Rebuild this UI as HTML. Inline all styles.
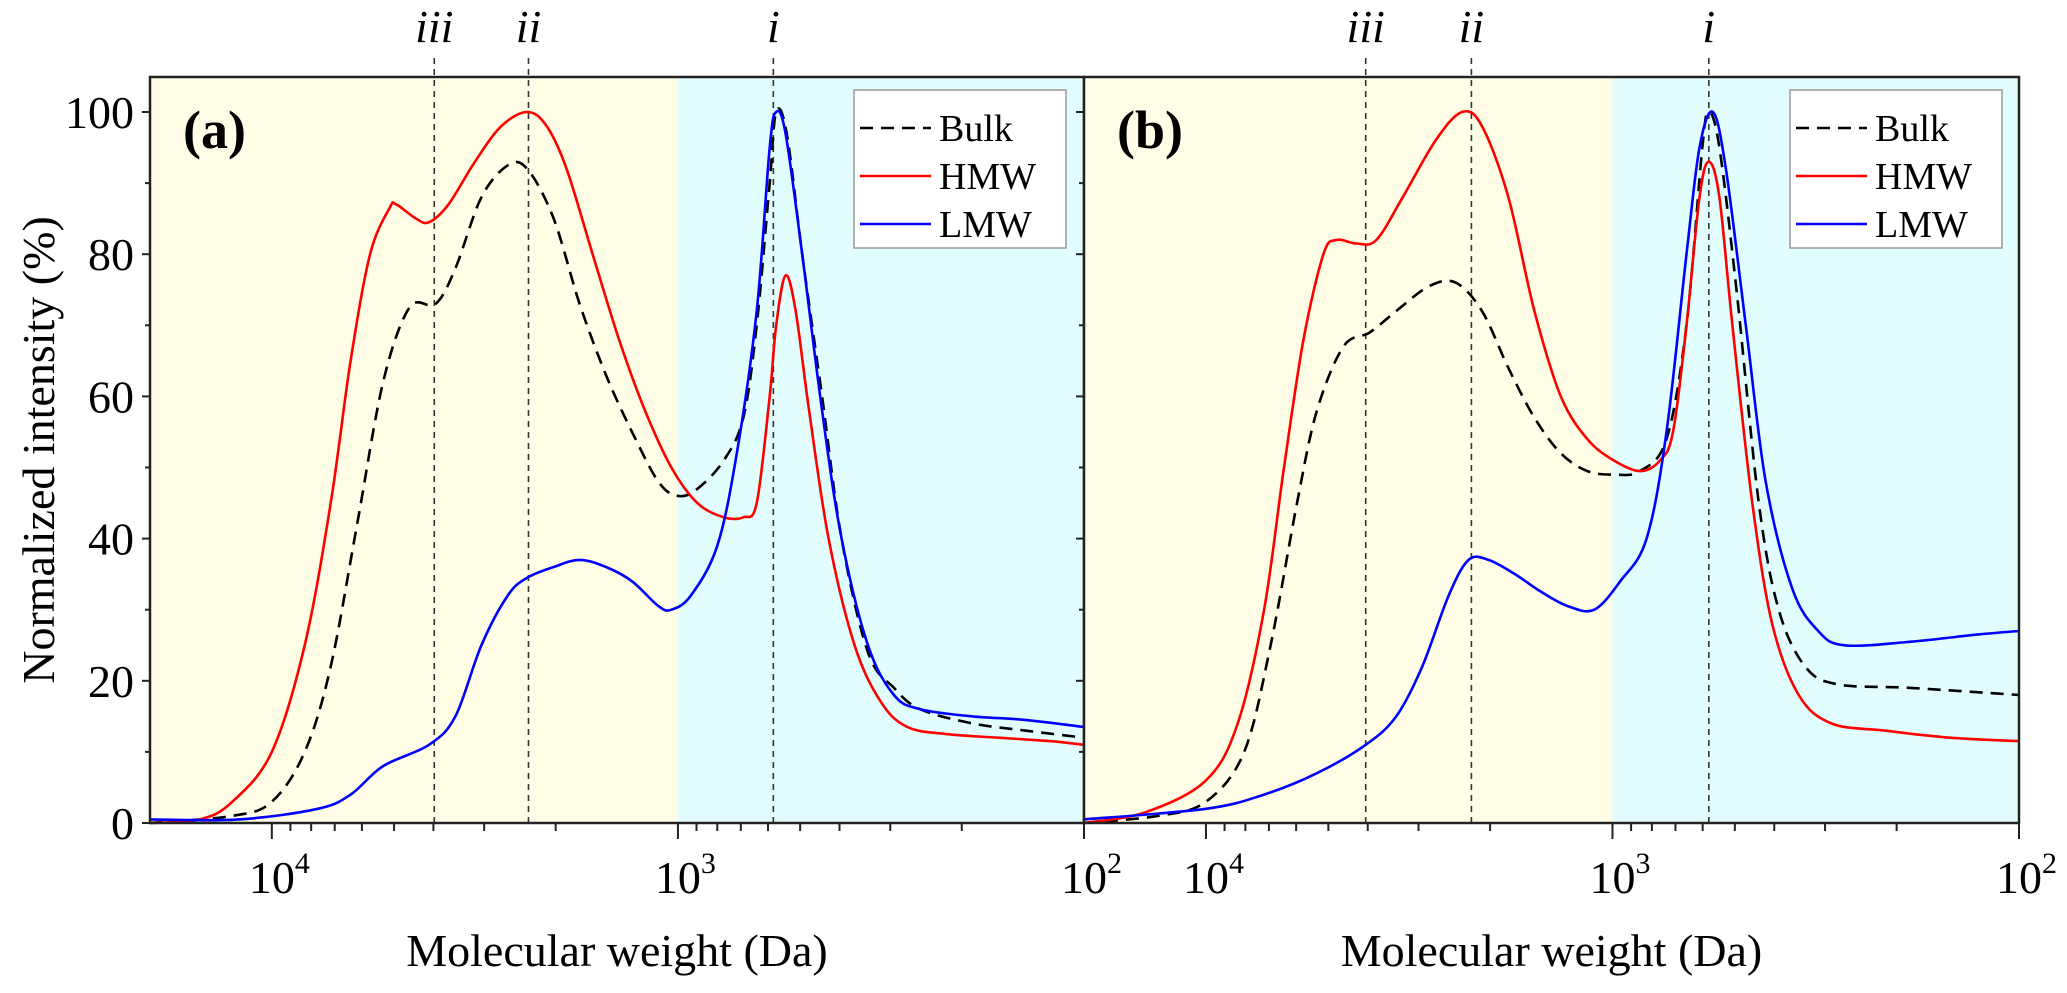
<!DOCTYPE html>
<html><head><meta charset="utf-8"><style>
html,body{margin:0;padding:0;background:#fff;}
svg{display:block;font-family:"Liberation Serif",serif;}
</style></head><body>
<svg id="chart" width="2067" height="993" viewBox="0 0 2067 993"></svg>
<script>
// ---- data (log10 of molecular weight in Da, normalized intensity %) ----
const aHmwLog=[4.3,4.177,4.097,4.0,3.919,3.855,3.806,3.758,3.71,3.694,3.645,3.613,3.565,3.5,3.435,3.371,3.323,3.274,3.21,3.145,3.081,3.016,2.952,2.887,2.839,2.806,2.774,2.758,2.735,2.71,2.677,2.629,2.565,2.5,2.435,2.339,2.21,2.081,2.0];
const aHmwVal=[0,0.5,3,10,25,45,65,80,86.5,87,85,84.5,87,93,98,100,98,92,80,68,58,50,45,43,43,45,60,70,77,72,58,40,25,17,13.5,12.5,12,11.5,11];
const aBulkLog=[4.3,4.097,4.0,3.919,3.855,3.79,3.726,3.661,3.597,3.548,3.484,3.419,3.371,3.306,3.242,3.177,3.113,3.048,3.0,2.952,2.887,2.839,2.806,2.774,2.758,2.732,2.694,2.645,2.597,2.532,2.468,2.403,2.274,2.145,2.0];
const aBulkVal=[0,1,3,10,22,42,62,72.5,73,78,88,92.5,92,85,73,63,55,48,46,47,51,57,70,90,100,97,80,60,40,24,19,16,14,13,12];
const aLmwLog=[4.3,4.081,3.887,3.806,3.726,3.613,3.548,3.484,3.419,3.371,3.306,3.242,3.177,3.113,3.048,3.016,2.968,2.903,2.855,2.806,2.774,2.758,2.735,2.694,2.645,2.597,2.532,2.468,2.403,2.274,2.145,2.0];
const aLmwVal=[0.5,0.5,2,4,8,11,15,25,32,34.5,36,37,36,34,30.5,30,32,39,52,72,95,100,97,80,58,40,25,18,16,15,14.5,13.5];

const bHmwLog=[4.3,4.149,4.0,3.922,3.857,3.808,3.76,3.711,3.679,3.63,3.581,3.516,3.435,3.37,3.321,3.256,3.192,3.127,3.062,2.997,2.932,2.883,2.851,2.818,2.786,2.763,2.737,2.705,2.656,2.607,2.542,2.461,2.331,2.169,2.0];
const bHmwVal=[0,1.5,6,14,30,50,68,80,82,81.5,82,88,96,100,98,88,72,60,54,51,49.5,51,55,70,88,93,88,70,45,28,18,14,13,12,11.5];
const bBulkLog=[4.3,4.117,4.0,3.906,3.841,3.776,3.727,3.662,3.597,3.532,3.451,3.386,3.321,3.256,3.192,3.127,3.062,2.997,2.932,2.867,2.818,2.779,2.763,2.737,2.695,2.64,2.591,2.526,2.445,2.266,2.0];
const bBulkVal=[0,1,3,10,25,45,58,67,69,72,75.5,76,72,64,57,52,49.5,49,49.5,54,70,95,100,95,75,45,30,22,19.5,19,18];
const bLmwLog=[4.3,4.0,3.857,3.727,3.607,3.532,3.468,3.403,3.354,3.305,3.24,3.175,3.11,3.045,2.981,2.916,2.867,2.818,2.786,2.753,2.721,2.672,2.623,2.558,2.494,2.429,2.266,2.104,2.0];
const bLmwVal=[0.5,2,4,7,11,15,22,32,37,37,35,32.5,30.5,30,34,40,55,80,95,100,92,70,48,33,27,25,25.5,26.5,27];

const aMarkers=[3.6,3.368,2.765];
const bMarkers=[3.607,3.347,2.763];
const markerLabels=["iii","ii","i"];
const yTicks=[0,20,40,60,80,100];
const xTickExp=[4,3,2];
const legendNames=["Bulk","HMW","LMW"];

const NS="http://www.w3.org/2000/svg";
const svgRoot=document.getElementById('chart');
function el(tag,attrs,parent){const e=document.createElementNS(NS,tag);for(const k in attrs)e.setAttribute(k,attrs[k]);(parent||svgRoot).appendChild(e);return e;}

const plotTop=77,plotBottom=823;
const yScale=v=>plotBottom-(v/100)*(plotBottom-112);
const panels=[
 {x0:150,x1:1084,tag:"(a)",id:"a",series:[[aBulkLog,aBulkVal],[aHmwLog,aHmwVal],[aLmwLog,aLmwVal]],markers:aMarkers,legendX:854},
 {x0:1084,x1:2019,tag:"(b)",id:"b",series:[[bBulkLog,bBulkVal],[bHmwLog,bHmwVal],[bLmwLog,bLmwVal]],markers:bMarkers,legendX:1790}
];
const colors=["#000","#ff0000","#0000ff"];

function smoothPath(pts){
  let d="M"+pts[0][0].toFixed(1)+","+pts[0][1].toFixed(1);
  for(let i=0;i<pts.length-1;i++){
    const p0=pts[Math.max(0,i-1)],p1=pts[i],p2=pts[i+1],p3=pts[Math.min(pts.length-1,i+2)];
    const c1x=p1[0]+(p2[0]-p0[0])/6,c1y=p1[1]+(p2[1]-p0[1])/6;
    const c2x=p2[0]-(p3[0]-p1[0])/6,c2y=p2[1]-(p3[1]-p1[1])/6;
    d+=" C"+c1x.toFixed(1)+","+c1y.toFixed(1)+" "+c2x.toFixed(1)+","+c2y.toFixed(1)+" "+p2[0].toFixed(1)+","+p2[1].toFixed(1);
  }
  return d;
}

panels.forEach(p=>{
  const xs=l=>p.x0+(4.3-l)/(4.3-2.0)*(p.x1-p.x0);
  const g=el('g',{});
  
  
  const bgY=el('rect',{x:p.x0,y:plotTop,width:xs(3)-p.x0,height:plotBottom-plotTop,fill:'#fffde6'},g);
  
  
  const bgC=el('rect',{x:xs(3),y:plotTop,width:p.x1-xs(3),height:plotBottom-plotTop,fill:'#e2fdfd'},g);
  
  
  p.markers.forEach((m,i)=>{
    const ln=el('line',{x1:xs(m),x2:xs(m),y1:58,y2:plotBottom,stroke:'#333','stroke-width':1.6,'stroke-dasharray':'6 5'},g);
    
    
    const t=el('text',{x:xs(m),y:42,'text-anchor':'middle','font-size':46,'font-style':'italic'},g);
    t.textContent=markerLabels[i];
    
    
  });
  p.series.forEach((s,si)=>{
    const pts=s[0].map((l,i)=>[xs(l),yScale(s[1][i])]);
    const path=el('path',{d:smoothPath(pts),fill:'none',stroke:colors[si],'stroke-width':2.6,'stroke-linejoin':'round'},g);
    if(si===0)path.setAttribute('stroke-dasharray','13 8');
    
    
  });
  const fr=el('rect',{x:p.x0,y:plotTop,width:p.x1-p.x0,height:plotBottom-plotTop,fill:'none',stroke:'#222','stroke-width':2.5},g);
  
  
  for(let v=0;v<=100;v+=10){
    const major=v%20===0;
    const tk=el('line',{x1:p.x0,x2:p.x0-(major?8:5),y1:yScale(v),y2:yScale(v),stroke:'#222','stroke-width':2},g);
    
    
  }
  if(p.id==='a'){
    yTicks.forEach(v=>{
      const t=el('text',{x:p.x0-16,y:yScale(v)+16,'text-anchor':'end','font-size':46},g);
      t.textContent=v;
      
      
    });
  }
  for(let e=2;e<=4;e++){
    const tk=el('line',{x1:xs(e),x2:xs(e),y1:plotBottom,y2:plotBottom+16,stroke:'#222','stroke-width':2},g);
    
    
    for(let k=2;k<=9;k++){
      const l=e+Math.log10(k);
      if(l>4.3)continue;
      const mt=el('line',{x1:xs(l),x2:xs(l),y1:plotBottom,y2:plotBottom+8,stroke:'#222','stroke-width':2},g);
      
      
    }
  }
  xTickExp.forEach(e=>{
    const t=el('text',{x:xs(e)-23,y:893,'font-size':46},g);
    t.textContent='10';
    const sup=el('tspan',{dy:-20,'font-size':30},t);
    sup.textContent=e;
    
    
  });
  const tg=el('text',{x:p.x0+33,y:148,'font-size':54,'font-weight':'bold'},g);
  tg.textContent=p.tag;
  
  
  const xt=el('text',{x:(p.x0+p.x1)/2,y:966,'text-anchor':'middle','font-size':46},g);
  xt.textContent='Molecular weight (Da)';
  
  
  const lg=el('g',{},g);
  
  
  el('rect',{x:p.legendX,y:90,width:212,height:158,fill:'#fff',stroke:'#999','stroke-width':1.5},lg);
  legendNames.forEach((n,i)=>{
    const yy=128+i*48;
    const ent=el('g',{},lg);
    
    
    const sw=el('line',{x1:p.legendX+6,x2:p.legendX+77,y1:yy,y2:yy,stroke:colors[i],'stroke-width':2.6},ent);
    if(i===0)sw.setAttribute('stroke-dasharray','13 8');
    const t=el('text',{x:p.legendX+85,y:yy+13,'font-size':38},ent);
    t.textContent=n;
  });
});
const yt=el('text',{x:0,y:0,'text-anchor':'middle','font-size':46,transform:'translate(54,450) rotate(-90)'});
yt.textContent='Normalized intensity (%)';


</script>
</body></html>
